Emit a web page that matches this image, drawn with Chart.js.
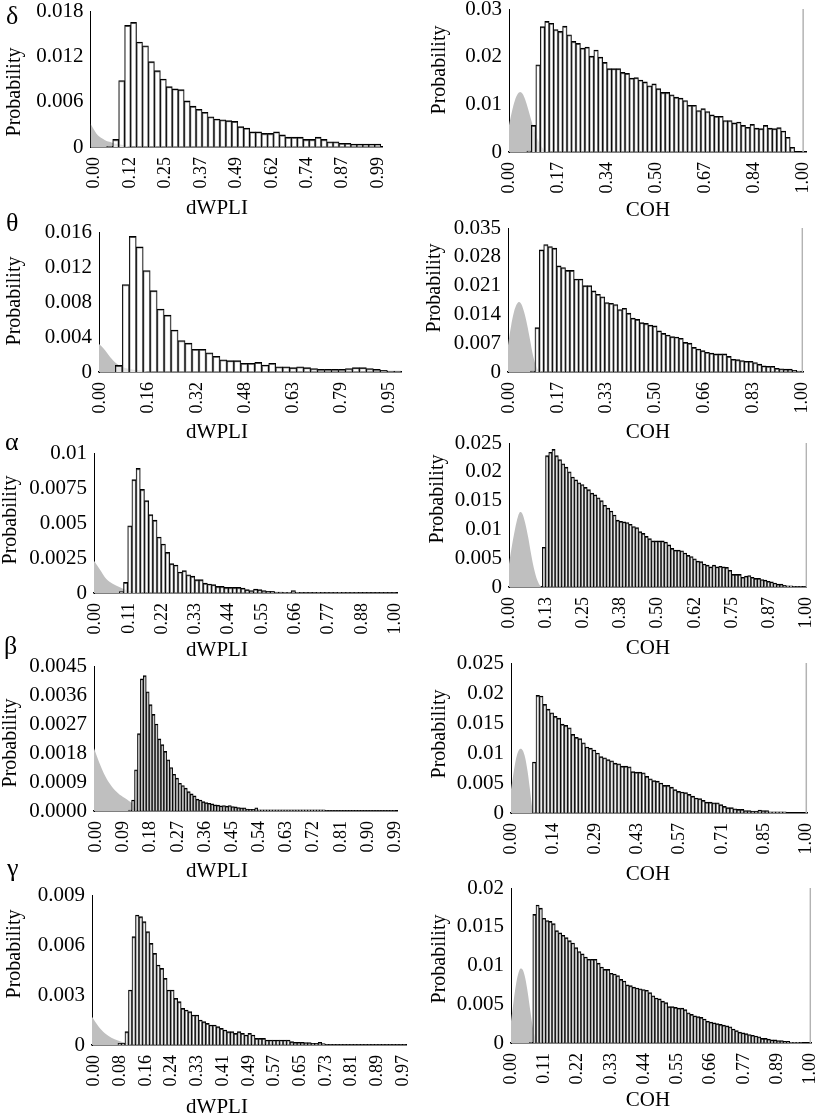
<!DOCTYPE html>
<html><head><meta charset="utf-8">
<script src="https://cdn.jsdelivr.net/npm/chart.js@4/dist/chart.umd.min.js"></script>
<style>
html,body{margin:0;padding:0;background:#fff;width:829px;height:1114px;overflow:hidden;position:relative;}
canvas{position:absolute;}
.greek{position:absolute;font-family:'Liberation Serif','Times New Roman',serif;font-size:26px;line-height:26px;color:#000;}
</style></head><body>
<script>
// ---------------- DATA ----------------
// delta dWPLI
const deltaWpliBars = [0.0001,0.0010,0.0088,0.0161,0.0165,0.0139,0.0134,0.0113,0.0101,0.0090,
 0.0080,0.0077,0.0076,0.0061,0.0054,0.0050,0.0046,0.0040,0.0037,0.0036,
 0.0035,0.0034,0.0027,0.0025,0.0020,0.0020,0.0018,0.0018,0.0020,0.0016,
 0.0013,0.0013,0.0013,0.0010,0.0010,0.0013,0.0010,0.0007,0.0007,0.0005,
 0.0005,0.0004,0.0004,0.0004,0.0004,0.0004];
const deltaWpliNullX = [0,0.01,0.02,0.03,0.042,0.055,0.065,0.08,0.095,0.11,0.125,0.135];
const deltaWpliNullY = [0.0031,0.0024,0.0018,0.0014,0.0011,0.0008,0.0007,0.0005,0.0004,0.00027,0.00013,0];
const deltaWpliXTicks = ['0.00','0.12','0.25','0.37','0.49','0.62','0.74','0.87','0.99'];
const deltaWpliYTicks = ['0','0.006','0.012','0.018'];

// delta COH
const deltaCohBars = [0.0002,0.0056,0.0183,0.0263,0.0274,0.0270,0.0257,0.0253,0.0264,0.0246,
 0.0232,0.0228,0.0218,0.0220,0.0201,0.0214,0.0199,0.0188,0.0175,0.0175,
 0.0175,0.0167,0.0165,0.0155,0.0156,0.0151,0.0147,0.0139,0.0143,0.0133,
 0.0125,0.0125,0.0120,0.0115,0.0113,0.0108,0.0098,0.0098,0.0087,0.0091,
 0.0085,0.0078,0.0075,0.0075,0.0066,0.0066,0.0061,0.0063,0.0056,0.0052,
 0.0058,0.0050,0.0049,0.0056,0.0050,0.0049,0.0051,0.0044,0.0031,0.0010];
const deltaCohNullX = [0,0.01,0.02,0.03,0.038,0.046,0.055,0.065,0.075,0.085,0.095,0.105,0.115,0.125,0.14];
const deltaCohNullY = [0.0056,0.0085,0.0108,0.0122,0.0126,0.0122,0.0110,0.0090,0.0068,0.0047,0.0030,0.0017,0.0008,0.0003,0];
const deltaCohXTicks = ['0.00','0.17','0.34','0.50','0.67','0.84','1.00'];
const deltaCohYTicks = ['0','0.01','0.02','0.03'];

// theta dWPLI
const thetaWpliBars = [0.00076,0.0100,0.0155,0.0143,0.0116,0.0093,0.0072,0.0065,0.0048,0.0036,
 0.0033,0.0026,0.0026,0.0022,0.0018,0.0014,0.0013,0.0013,0.0010,0.0010,
 0.0011,0.0008,0.0010,0.0006,0.0006,0.0005,0.0006,0.0005,0.0004,0.0003,
 0.0003,0.0003,0.0003,0.0004,0.0005,0.0005,0.0004,0.0003,0.0002,0.0001,0.0001];
const thetaWpliNullX = [0,0.015,0.037,0.053,0.075,0.11,0.15,0.16];
const thetaWpliNullY = [0.0032,0.0027,0.0017,0.0011,0.0006,0.0003,0.0001,0];
const thetaWpliXTicks = ['0.00','0.16','0.32','0.48','0.63','0.79','0.95'];
const thetaWpliYTicks = ['0','0.004','0.008','0.012','0.016'];

// theta COH
const thetaCohBars = [0.0002,0.0108,0.0297,0.0310,0.0305,0.0301,0.0258,0.0254,0.0247,0.0247,
 0.0226,0.0226,0.0210,0.0210,0.0197,0.0189,0.0183,0.0169,0.0167,0.0164,
 0.0152,0.0155,0.0143,0.0131,0.0128,0.0120,0.0118,0.0114,0.0112,0.0100,
 0.0094,0.0090,0.0086,0.0085,0.0082,0.0072,0.0070,0.0060,0.0056,0.0052,
 0.0048,0.0046,0.0044,0.0044,0.0044,0.0038,0.0031,0.0030,0.0028,0.0026,
 0.0026,0.0023,0.0019,0.0015,0.0014,0.0014,0.0009,0.0008,0.0007,0.0007,
 0.0004,0.0002];
const thetaCohNullX = [0,0.01,0.02,0.03,0.038,0.046,0.055,0.065,0.075,0.085,0.095,0.105,0.115];
const thetaCohNullY = [0.0065,0.0110,0.0145,0.0165,0.0170,0.0164,0.0145,0.0115,0.0078,0.0040,0.0015,0.0003,0];
const thetaCohXTicks = ['0.00','0.17','0.33','0.50','0.66','0.83','1.00'];
const thetaCohYTicks = ['0','0.007','0.014','0.021','0.028','0.035'];

// alpha dWPLI
const alphaWpliBars = [0.0001,0.00076,0.0048,0.0081,0.0089,0.0074,0.0066,0.0056,0.0052,0.0040,
 0.0035,0.0029,0.0021,0.0020,0.0015,0.0016,0.0013,0.0012,0.00095,0.00095,
 0.0007,0.00064,0.0006,0.00047,0.00047,0.0004,0.0004,0.0004,0.0004,0.00035,
 0.00024,0.00017,0.00028,0.00024,0.00017,0.00012,0.00012,0.00007,0.00006,0.00005,
 0.00005,0.00018,0.00005,0.00004,0.00004,0.00004,0.00004,0.00004,0.00004,0.00004,
 0.00004,0.00004,0.00004,0.00004,0.00004,0.00004,0.00004,0.00003,0.00003,0.00003,
 0.00003,0.00003,0.00003,0.00003,0.00003,0.00003];
const alphaWpliNullX = [0,0.019,0.041,0.062,0.084,0.105,0.127,0.15,0.16];
const alphaWpliNullY = [0.0023,0.0017,0.0010,0.00066,0.00043,0.00024,0.00012,0.00004,0];
const alphaWpliXTicks = ['0.00','0.11','0.22','0.33','0.44','0.55','0.66','0.77','0.88','1.00'];
const alphaWpliYTicks = ['0','0.0025','0.005','0.0075','0.01'];

// alpha COH
const alphaCohBars = [0.0069,0.0228,0.0234,0.0239,0.0228,0.0221,0.0214,0.0208,0.0200,0.0191,
 0.0186,0.0181,0.0178,0.0173,0.0169,0.0163,0.0160,0.0155,0.0150,0.0142,
 0.0137,0.0132,0.0125,0.0116,0.0114,0.0113,0.0112,0.0109,0.0105,0.0103,
 0.0096,0.0093,0.0088,0.0084,0.0080,0.0080,0.0080,0.0080,0.0078,0.0073,
 0.0067,0.0064,0.0064,0.0063,0.0059,0.0055,0.0053,0.0049,0.0045,0.0044,
 0.0040,0.0038,0.0035,0.0038,0.0035,0.0036,0.0035,0.0034,0.0029,0.0022,
 0.0022,0.0022,0.0017,0.0019,0.0020,0.0017,0.0015,0.0015,0.0013,0.0012,
 0.0010,0.0009,0.0007,0.0005,0.0005,0.0003,0.0002,0.0002,0.0001,0.0001,
 0.0001,0.00005];
const alphaCohNullX = [0,0.01,0.02,0.03,0.038,0.046,0.055,0.065,0.075,0.085,0.095,0.105,0.11];
const alphaCohNullY = [0.0040,0.0072,0.0100,0.0122,0.0130,0.0126,0.0110,0.0085,0.0055,0.0030,0.0012,0.0002,0];
const alphaCohXTicks = ['0.00','0.13','0.25','0.38','0.50','0.62','0.75','0.87','1.00'];
const alphaCohYTicks = ['0','0.005','0.01','0.015','0.02','0.025'];

// beta dWPLI
const betaWpliBars = [0.00003,0.00034,0.00128,0.0024,0.0041,0.0042,0.0037,0.0033,0.0030,0.0027,
 0.00224,0.00206,0.00185,0.00159,0.00135,0.00114,0.00102,0.00086,0.00079,0.00071,
 0.0006,0.00053,0.00047,0.00037,0.00034,0.00029,0.00026,0.00024,0.00022,0.00019,
 0.00018,0.00016,0.00017,0.00015,0.00017,0.00014,0.00013,0.00011,0.0001,0.0001,
 0.00006,0.00005,0.00005,0.0001,0.00004,0.00004,0.00004,0.00004,0.00004,0.00004,
 0.00004,0.00004,0.00004,0.00004,0.00004,0.00004,0.00004,0.00004,0.00004,0.00004,
 0.00004,0.00004,0.00004,0.00004,0.00004,0.00004,0.00004,0.00001,0.00001,0.00001,
 0.00001,0.00001,0.00001,0.00001,0.00001,0.00001,0.00001,0.00001,0.00001,0.00001,
 0.00001,0.00001,0.00001,0.00001,0.00001,0.00001,0.00001,0.00001,0.00001,0.00001,
 0.00001];
const betaWpliNullX = [0,0.016,0.038,0.059,0.08,0.102,0.115,0.13,0.14];
const betaWpliNullY = [0.00195,0.00154,0.00107,0.00076,0.00055,0.0004,0.00032,0.0002,0];
const betaWpliXTicks = ['0.00','0.09','0.18','0.27','0.36','0.45','0.54','0.63','0.72','0.81','0.90','0.99'];
const betaWpliYTicks = ['0.0000','0.0009','0.0018','0.0027','0.0036','0.0045'];

// beta COH
const betaCohBars = [0.0085,0.0196,0.0195,0.0181,0.0173,0.0167,0.0161,0.0158,0.0148,0.0146,
 0.0142,0.0131,0.0126,0.0124,0.0117,0.0110,0.0108,0.0105,0.0100,0.0094,
 0.0092,0.0089,0.0087,0.0083,0.0082,0.0078,0.0078,0.0077,0.0069,0.0068,
 0.0068,0.0067,0.0061,0.0057,0.0054,0.0053,0.0050,0.0046,0.0046,0.0043,
 0.0039,0.0036,0.0035,0.0034,0.0031,0.0028,0.0025,0.0024,0.0021,0.0018,
 0.0018,0.0017,0.0017,0.0014,0.0011,0.0009,0.0009,0.0007,0.0006,0.0006,
 0.0004,0.0004,0.0003,0.0003,0.0005,0.0004,0.0004,0.0002,0.0002,0.0002,
 0.0002,0.0002];
const betaCohNullX = [0,0.008,0.016,0.024,0.032,0.040,0.048,0.056,0.064,0.070,0.075];
const betaCohNullY = [0.0039,0.0065,0.0088,0.0102,0.0107,0.0104,0.0092,0.0070,0.0040,0.0015,0];
const betaCohXTicks = ['0.00','0.14','0.29','0.43','0.57','0.71','0.85','1.00'];
const betaCohYTicks = ['0','0.005','0.01','0.015','0.02','0.025'];

// gamma dWPLI
const gammaWpliBars = [0.0001,0.0001,0.0008,0.0033,0.0065,0.0078,0.0077,0.0074,0.0068,0.0061,
 0.0055,0.0048,0.0046,0.0040,0.0033,0.0033,0.0028,0.0026,0.0022,0.0021,
 0.0020,0.0018,0.0018,0.0015,0.0014,0.0013,0.0012,0.0012,0.0011,0.0010,
 0.0009,0.0008,0.0008,0.0007,0.0008,0.0007,0.0006,0.0007,0.0006,0.0004,
 0.0004,0.0004,0.0003,0.0003,0.0003,0.0003,0.0003,0.0003,0.0003,0.0002,
 0.00016,0.00016,0.00016,0.00014,0.00014,0.0001,0.0001,0.00016,0.00008,0.00003,
 0.00003,0.00003,0.00003,0.00003,0.00003,0.00003,0.00003,0.00003,0.00003,0.00003,
 0.00003,0.00003,0.00003,0.00003,0.00003,0.00003,0.00003,0.00003,0.00003,0.00003,
 0.00003,0.00003];
const gammaWpliNullX = [0,0.01,0.03,0.051,0.071,0.092,0.11,0.12];
const gammaWpliNullY = [0.0017,0.0014,0.0009,0.00056,0.00034,0.0002,0.0001,0];
const gammaWpliXTicks = ['0.00','0.08','0.16','0.24','0.33','0.41','0.49','0.57','0.65','0.73','0.81','0.89','0.97'];
const gammaWpliYTicks = ['0','0.003','0.006','0.009'];

// gamma COH
const gammaCohBars = [0.0001,0.0166,0.0178,0.0174,0.0161,0.0158,0.0157,0.0154,0.0145,0.0142,
 0.0139,0.0136,0.0132,0.0129,0.0123,0.0118,0.0115,0.0111,0.0108,0.0108,
 0.0108,0.0103,0.0098,0.0095,0.0095,0.0090,0.0089,0.0087,0.0082,0.0080,
 0.0075,0.0074,0.0072,0.0071,0.0070,0.0069,0.0068,0.0065,0.0061,0.0058,
 0.0057,0.0054,0.0052,0.0047,0.0047,0.0046,0.0045,0.0045,0.0043,0.0039,
 0.0037,0.0035,0.0034,0.0033,0.0031,0.0028,0.0027,0.0026,0.0025,0.0024,
 0.0023,0.0022,0.0021,0.0018,0.0016,0.0014,0.0013,0.0012,0.0011,0.0010,
 0.0009,0.0008,0.0006,0.0006,0.0005,0.0004,0.0004,0.0003,0.0003,0.0002,
 0.0002,0.0001,0.0001,0.0001,0.00005];
const gammaCohNullX = [0,0.008,0.016,0.024,0.032,0.040,0.048,0.056,0.064,0.072,0.080,0.088];
const gammaCohNullY = [0.0028,0.0052,0.0074,0.0089,0.0096,0.0094,0.0083,0.0065,0.0043,0.0022,0.0008,0];
const gammaCohXTicks = ['0.00','0.11','0.22','0.33','0.44','0.55','0.66','0.77','0.89','1.00'];
const gammaCohYTicks = ['0','0.005','0.01','0.015','0.02'];

const bandLabels = ['δ','θ','α','β','γ'];

// ---------------- PANEL CONFIG (layout / binning) ----------------
const panels = [
 {bars:deltaWpliBars, binFrom:0.0557, binTo:0.9944, nx:deltaWpliNullX, ny:deltaWpliNullY, xt:deltaWpliXTicks, yt:deltaWpliYTicks,
  xMin:0, xMax:1.0, tickFrom:0.0145, tickTo:0.9855, ref:null, area:[90.5,11,390,147], yTitle:[15,92], xTitle:[217,208], xText:'dWPLI'},
 {bars:deltaCohBars, binFrom:0.0608, binTo:0.971, nx:deltaCohNullX, ny:deltaCohNullY, xt:deltaCohXTicks, yt:deltaCohYTicks,
  xMin:0, xMax:1.013, tickFrom:0, tickTo:1.0, ref:1.0, area:[509,9,815,152], yTitle:[440,70], xTitle:[648,210], xText:'COH'},
 {bars:thetaWpliBars, binFrom:0.0534, binTo:0.99, nx:thetaWpliNullX, ny:thetaWpliNullY, xt:thetaWpliXTicks, yt:thetaWpliYTicks,
  xMin:0, xMax:0.99, tickFrom:0.0044, tickTo:0.952, ref:null, area:[99,232,402,372], yTitle:[15,301], xTitle:[217,432], xText:'dWPLI'},
 {bars:thetaCohBars, binFrom:0.0768, binTo:0.9956, nx:thetaCohNullX, ny:thetaCohNullY, xt:thetaCohXTicks, yt:thetaCohYTicks,
  xMin:0, xMax:1.003, tickFrom:0.003, tickTo:1.0, ref:1.0, area:[508,228,814,372], yTitle:[435,288], xTitle:[648,432], xText:'COH'},
 {bars:alphaWpliBars, binFrom:0.084, binTo:1.003, nx:alphaWpliNullX, ny:alphaWpliNullY, xt:alphaWpliXTicks, yt:alphaWpliYTicks,
  xMin:0, xMax:1.009, tickFrom:0.005, tickTo:1.0, ref:null, area:[94,453,407,593], yTitle:[11,520], xTitle:[217,650], xText:'dWPLI'},
 {bars:alphaCohBars, binFrom:0.112, binTo:0.997, nx:alphaCohNullX, ny:alphaCohNullY, xt:alphaCohXTicks, yt:alphaCohYTicks,
  xMin:0, xMax:1.002, tickFrom:0, tickTo:1.0, ref:1.0, area:[509,443,818,587], yTitle:[438,499], xTitle:[648,648], xText:'COH'},
 {bars:betaWpliBars, binFrom:0.115, binTo:1.001, nx:betaWpliNullX, ny:betaWpliNullY, xt:betaWpliXTicks, yt:betaWpliYTicks,
  xMin:0, xMax:1.006, tickFrom:0.0075, tickTo:1.0, ref:null, area:[94,666,407,811], yTitle:[11,743], xTitle:[217,871], xText:'dWPLI'},
 {bars:betaCohBars, binFrom:0.0727, binTo:0.932, nx:betaCohNullX, ny:betaCohNullY, xt:betaCohXTicks, yt:betaCohYTicks,
  xMin:0, xMax:1.005, tickFrom:0, tickTo:1.0, ref:1.0, area:[511,663,818,813], yTitle:[440,734], xTitle:[648,874], xText:'COH'},
 {bars:gammaWpliBars, binFrom:0.0815, binTo:0.987, nx:gammaWpliNullX, ny:gammaWpliNullY, xt:gammaWpliXTicks, yt:gammaWpliYTicks,
  xMin:0, xMax:0.99, tickFrom:0.008, tickTo:0.978, ref:null, area:[92,895,415,1045], yTitle:[15,954], xTitle:[217,1107], xText:'dWPLI'},
 {bars:gammaCohBars, binFrom:0.062, binTo:0.974, nx:gammaCohNullX, ny:gammaCohNullY, xt:gammaCohXTicks, yt:gammaCohYTicks,
  xMin:0, xMax:1.003, tickFrom:0, tickTo:1.0, ref:1.0, area:[511,888,822,1043], yTitle:[440,959], xTitle:[648,1100], xText:'COH'}
];
const greekPos = [[6,3],[6,210],[5,429],[4,633],[7,855]];

const SERIF = '"Liberation Serif","Times New Roman",serif';

function makeChart(p){
  const [aL,aT,aR,aB] = p.area;
  const cl = Math.floor(aL-100), ct = Math.floor(aT-30);
  const cr = Math.ceil(aR+20), cb = Math.ceil(aB+90);
  const cw = cr-cl, ch = cb-ct;
  const yW = aL-cl, padTop = aT-ct, padRight = cr-aR, xH = cb-aB;
  const cv = document.createElement('canvas');
  cv.width = cw; cv.height = ch;
  cv.style.left = cl+'px'; cv.style.top = ct+'px';
  cv.style.width = cw+'px'; cv.style.height = ch+'px';
  document.body.appendChild(cv);

  const n = p.bars.length, w = (p.binTo-p.binFrom)/n;
  const barData = p.bars.map((v,i)=>({x:p.binFrom+(i+0.5)*w, y:v}));
  const nullData = p.nx.map((x,i)=>({x:x, y:p.ny[i]}));
  const yVals = p.yt.map(Number);
  const yMax = yVals[yVals.length-1];
  const xPos = p.xt.map((_,j)=>p.tickFrom + j*(p.tickTo-p.tickFrom)/(p.xt.length-1));

  const datasets = [
    {type:'bar', data:barData, backgroundColor:'rgba(255,255,255,0.6)', borderColor:'#000',
     borderWidth:{top:1.4, left:0.9, right:0.9, bottom:0}, barPercentage:1, categoryPercentage:1, grouped:false, order:0},
    {type:'line', data:nullData, backgroundColor:'#bfbfbf', borderColor:'rgba(0,0,0,0)', borderWidth:1,
     pointRadius:0, fill:'origin', cubicInterpolationMode:'monotone', order:1}
  ];
  if (p.ref !== null) {
    datasets.push({type:'line', data:[{x:p.ref,y:0},{x:p.ref,y:yMax}], borderColor:'#b3b3b3',
      borderWidth:1.5, pointRadius:0, fill:false, order:2});
  }
  const titles = {
    id:'panelTitles',
    afterDraw(chart){
      const ctx = chart.ctx;
      ctx.save();
      ctx.fillStyle = '#000';
      ctx.textAlign = 'center';
      ctx.textBaseline = 'middle';
      ctx.font = '21px '+SERIF;
      ctx.fillText(p.xText, p.xTitle[0]-cl, p.xTitle[1]-ct);
      ctx.font = '20px '+SERIF;
      ctx.translate(p.yTitle[0]-cl, p.yTitle[1]-ct);
      ctx.rotate(-Math.PI/2);
      ctx.fillText('Probability', 0, 0);
      ctx.restore();
    }
  };
  new Chart(cv, {
    type:'bar',
    data:{datasets:datasets},
    options:{
      responsive:false, animation:false,
      layout:{padding:{top:padTop, right:padRight, left:0, bottom:0}},
      plugins:{legend:{display:false}, tooltip:{enabled:false}},
      scales:{
        x:{type:'linear', min:p.xMin, max:p.xMax, offset:false,
           grid:{display:false, drawTicks:false, offset:false},
           border:{display:true, color:'#000', width:1.4},
           ticks:{autoSkip:false, minRotation:90, maxRotation:90, padding:10, color:'#000',
                  font:{family:SERIF, size:18}, callback:(v,i)=>p.xt[i]},
           afterBuildTicks:(s)=>{ s.ticks = xPos.map(v=>({value:v})); },
           afterFit:(s)=>{ s.height = xH; }},
        y:{type:'linear', min:0, max:yMax,
           grid:{display:false, drawTicks:false},
           border:{display:true, color:'#000', width:1},
           ticks:{autoSkip:false, padding:7, color:'#000', font:{family:SERIF, size:21},
                  callback:(v,i)=>p.yt[i]},
           afterBuildTicks:(s)=>{ s.ticks = yVals.map(v=>({value:v})); },
           afterFit:(s)=>{ s.width = yW; }}
      }
    },
    plugins:[titles]
  });
}
panels.forEach(makeChart);

bandLabels.forEach((t,i)=>{
  const d = document.createElement('div');
  d.className = 'greek';
  d.textContent = t;
  d.style.left = greekPos[i][0]+'px';
  d.style.top = greekPos[i][1]+'px';
  document.body.appendChild(d);
});
</script>
</body></html>
